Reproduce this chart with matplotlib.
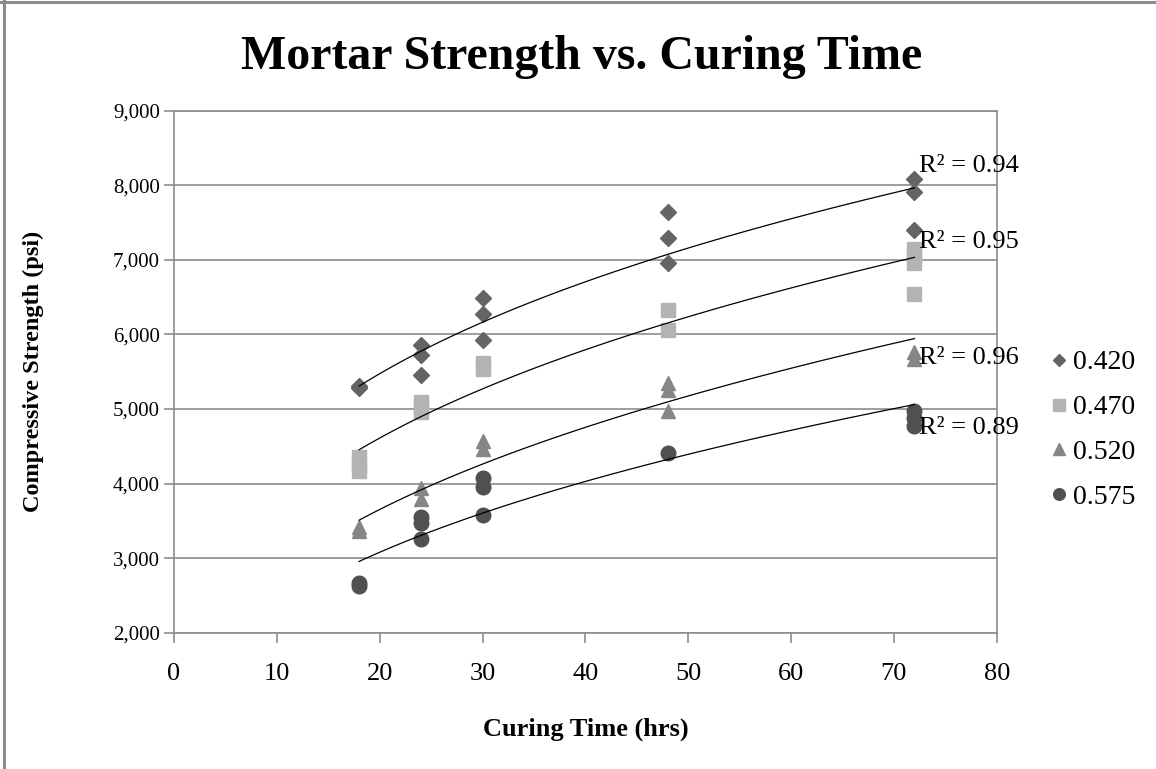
import numpy as np
import matplotlib
matplotlib.use("Agg")
import matplotlib.pyplot as plt
from matplotlib.lines import Line2D

plt.rcParams['font.family'] = ['Liberation Serif', 'DejaVu Serif']

# Curing time (hrs) and compressive strength (psi) for each w/c ratio
t_420 = [18, 18, 24, 24, 24, 30, 30, 30, 48, 48, 48, 72, 72, 72]
s_420 = [5280, 5310, 5860, 5720, 5450, 6490, 6280, 5920, 7640, 7290, 6960, 8090, 7910, 7400]

t_470 = [18, 18, 18, 24, 24, 24, 30, 30, 48, 48, 72, 72, 72, 72]
s_470 = [4350, 4250, 4170, 5090, 5010, 4960, 5620, 5540, 6330, 6060, 7140, 7040, 6960, 6540]

t_520 = [18, 18, 24, 24, 30, 30, 48, 48, 48, 72, 72]
s_520 = [3420, 3360, 3940, 3790, 4570, 4460, 5350, 5260, 4970, 5770, 5670]

t_575 = [18, 18, 24, 24, 24, 30, 30, 30, 48, 72, 72, 72]
s_575 = [2660, 2630, 3550, 3470, 3260, 4070, 3950, 3580, 4410, 4970, 4880, 4770]

labels = ['0.420', '0.470', '0.520', '0.575']
r2_labels = ['R² = 0.94', 'R² = 0.95', 'R² = 0.96', 'R² = 0.89']
r2_pos = [8260, 7240, 5690, 4740]

series = [(t_420, s_420), (t_470, s_470), (t_520, s_520), (t_575, s_575)]
markers = ['D', 's', '^', 'o']
sizes = [8, 10.5, 10, 10.5]
colors = ['#646464', '#b3b3b3', '#868686', '#505050']

fig = plt.figure(figsize=(11.56, 7.69), dpi=100)
ax = fig.add_axes([174 / 1156, 1 - 632.7 / 769, (996.7 - 174) / 1156, (632.7 - 110.7) / 769])

handles = []
for (t, s), m, ms, c, lab in zip(series, markers, sizes, colors, labels):
    h, = ax.plot(t, s, linestyle='none', marker=m, markersize=ms, color=c, label=lab, zorder=3)
    handles.append(h)
    # power trendline (fit in log-log space) over the tested range
    b, ln_a = np.polyfit(np.log(t), np.log(s), 1)
    xs = np.linspace(min(t), max(t), 100)
    ax.plot(xs, np.exp(ln_a) * xs ** b, color='black', linewidth=0.9, zorder=4)

for txt, yv in zip(r2_labels, r2_pos):
    ax.text(72.4, yv, txt, fontsize=19, va='center', ha='left', zorder=5)

ax.set_xlim(0, 80)
ax.set_ylim(2000, 9000)
ax.set_xticks(range(0, 81, 10))
ax.set_yticks(range(2000, 9001, 1000))
ax.yaxis.set_major_formatter(matplotlib.ticker.FuncFormatter(lambda v, p: f'{int(v):,}'))
ax.grid(axis='y', color='#8c8c8c', linewidth=1.2)
ax.set_axisbelow(True)
for sp in ax.spines.values():
    sp.set_color('#8c8c8c')
    sp.set_linewidth(1.2)
ax.tick_params(direction='out', length=7, width=1.2, color='#8c8c8c')
ax.tick_params(axis='y', labelsize=15, pad=3)
ax.tick_params(axis='x', labelsize=19, pad=15)

ax.set_xlabel('Curing Time (hrs)', fontsize=19, fontweight='bold', labelpad=23)
ax.set_ylabel('Compressive Strength (psi)', fontsize=17.5, fontweight='bold', labelpad=50)
fig.text(582 / 1156, 1 - 57 / 769, 'Mortar Strength vs. Curing Time', fontsize=34.5,
         fontweight='bold', ha='center', va='center')

fig.legend(handles=handles, labels=labels, loc='center left',
           bbox_to_anchor=(1035 / 1156, 1 - 430 / 769), frameon=False,
           fontsize=20, handlelength=0.7, handletextpad=0.15, labelspacing=0.7,
           borderpad=0, markerscale=0.8)

# outer chart border
fig.add_artist(Line2D([0, 1], [1 - 1.5 / 769] * 2, color='#8c8c8c', linewidth=2.2))
fig.add_artist(Line2D([4 / 1156] * 2, [0, 1], color='#8c8c8c', linewidth=2.2))

fig.savefig('out.png', dpi=100)
